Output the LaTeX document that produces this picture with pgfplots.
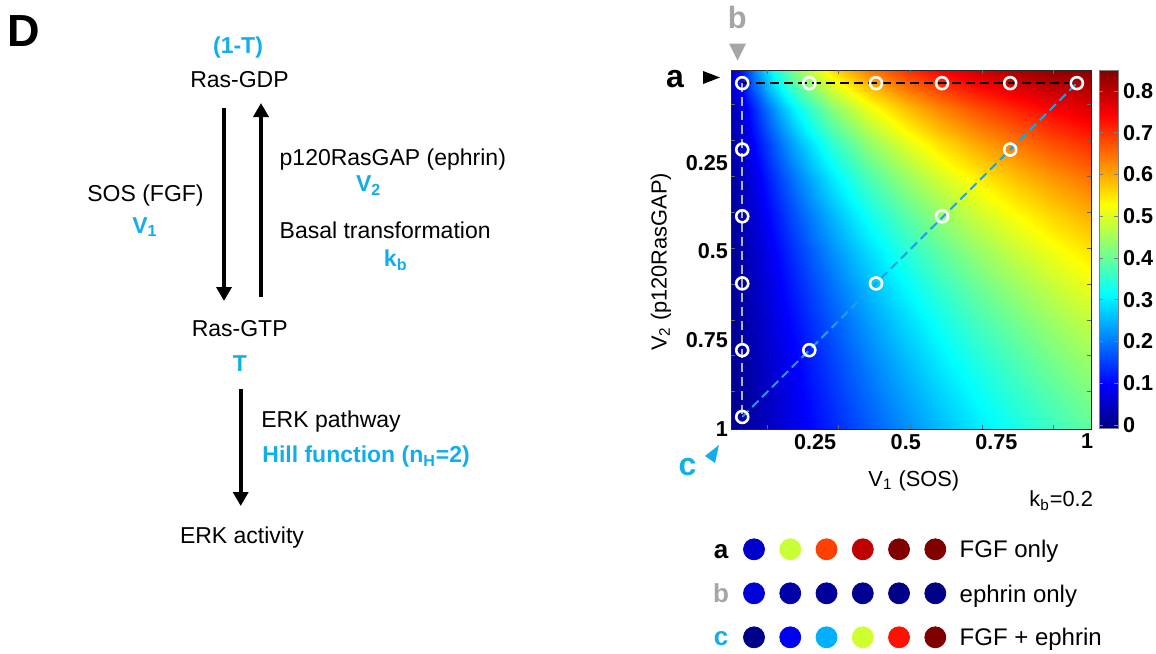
\documentclass[border=0pt]{standalone}
\usepackage{fontspec}
\setmainfont{Liberation Sans}
\usepackage{pgfplots}
\pgfplotsset{compat=1.18}
\usetikzlibrary{arrows.meta}
\definecolor{cy}{HTML}{12AEEB}
\definecolor{gb}{HTML}{A6A6A6}
\definecolor{dcy}{HTML}{1FA3E0}
\definecolor{lgr}{HTML}{B4B4B4}
\newcommand{\fsz}[1]{\fontsize{#1}{#1}\selectfont}
\pgfplotstableread{
x y z
0 -0.02 0
0.05 -0.02 0.128
0.1 -0.02 0.257
0.15 -0.02 0.361
0.2 -0.02 0.443
0.3 -0.02 0.565
0.4 -0.02 0.649
0.5 -0.02 0.710
0.6 -0.02 0.757
0.7 -0.02 0.794
0.8 -0.02 0.823
0.9 -0.02 0.848
1.02 -0.02 0.872
0 0.1 0
0.05 0.1 0.075
0.1 0.1 0.164
0.15 0.1 0.244
0.2 0.1 0.314
0.3 0.1 0.427
0.4 0.1 0.513
0.5 0.1 0.579
0.6 0.1 0.633
0.7 0.1 0.676
0.8 0.1 0.712
0.9 0.1 0.743
1.02 0.1 0.774
0 0.2 0
0.05 0.2 0.054
0.1 0.2 0.123
0.15 0.2 0.188
0.2 0.2 0.248
0.3 0.2 0.350
0.4 0.2 0.432
0.5 0.2 0.499
0.6 0.2 0.554
0.7 0.2 0.600
0.8 0.2 0.638
0.9 0.2 0.672
1.02 0.2 0.706
0 0.3 0
0.05 0.3 0.042
0.1 0.3 0.097
0.15 0.3 0.152
0.2 0.3 0.203
0.3 0.3 0.295
0.4 0.3 0.372
0.5 0.3 0.436
0.6 0.3 0.490
0.7 0.3 0.536
0.8 0.3 0.576
0.9 0.3 0.611
1.02 0.3 0.647
0 0.4 0
0.05 0.4 0.033
0.1 0.4 0.079
0.15 0.4 0.126
0.2 0.4 0.171
0.3 0.4 0.253
0.4 0.4 0.324
0.5 0.4 0.385
0.6 0.4 0.438
0.7 0.4 0.484
0.8 0.4 0.524
0.9 0.4 0.560
1.02 0.4 0.597
0 0.5 0
0.05 0.5 0.028
0.1 0.5 0.066
0.15 0.5 0.106
0.2 0.5 0.146
0.3 0.5 0.220
0.4 0.5 0.286
0.5 0.5 0.344
0.6 0.5 0.395
0.7 0.5 0.440
0.8 0.5 0.480
0.9 0.5 0.515
1.02 0.5 0.553
0 0.6 0
0.05 0.6 0.023
0.1 0.6 0.056
0.15 0.6 0.092
0.2 0.6 0.127
0.3 0.6 0.194
0.4 0.6 0.255
0.5 0.6 0.310
0.6 0.6 0.359
0.7 0.6 0.402
0.8 0.6 0.441
0.9 0.6 0.476
1.02 0.6 0.514
0 0.7 0
0.05 0.7 0.020
0.1 0.7 0.049
0.15 0.7 0.080
0.2 0.7 0.112
0.3 0.7 0.173
0.4 0.7 0.230
0.5 0.7 0.281
0.6 0.7 0.328
0.7 0.7 0.370
0.8 0.7 0.408
0.9 0.7 0.442
1.02 0.7 0.479
0 0.8 0
0.05 0.8 0.018
0.1 0.8 0.043
0.15 0.8 0.071
0.2 0.8 0.099
0.3 0.8 0.155
0.4 0.8 0.208
0.5 0.8 0.257
0.6 0.8 0.301
0.7 0.8 0.341
0.8 0.8 0.378
0.9 0.8 0.412
1.02 0.8 0.449
0 0.9 0
0.05 0.9 0.015
0.1 0.9 0.038
0.15 0.9 0.063
0.2 0.9 0.089
0.3 0.9 0.141
0.4 0.9 0.190
0.5 0.9 0.236
0.6 0.9 0.278
0.7 0.9 0.317
0.8 0.9 0.352
0.9 0.9 0.385
1.02 0.9 0.421
0 1.0 0
0.05 1.0 0.014
0.1 1.0 0.034
0.15 1.0 0.057
0.2 1.0 0.081
0.3 1.0 0.128
0.4 1.0 0.174
0.5 1.0 0.217
0.6 1.0 0.257
0.7 1.0 0.295
0.8 1.0 0.329
0.9 1.0 0.361
1.02 1.0 0.397
}\heat
\pgfplotstableread{
x y c
0 0 0.0545
1 0 0.481
2 0 0.689
3 0 0.796
4 0 0.85
5 0 0.85
0 1 0.0646
1 1 0.024
2 1 0.0124
3 1 0.004
4 1 -0.003
5 1 -0.005
0 2 -0.001
1 2 0.085
2 2 0.246
3 2 0.488
4 2 0.729
5 2 0.85
}\legdots
\begin{document}
\begin{tikzpicture}[x=0.5pt,y=-0.5pt]
% ---------------- left diagram ----------------
\node[font=\bfseries\fsz{22.5},inner sep=0pt] at (24,31) {D};
\node[font=\bfseries\fsz{11.5},text=cy,anchor=base,inner sep=0pt] at (238,53.5) {(1-T)};
\node[font=\fsz{11.5},anchor=base,inner sep=0pt] at (239.5,87.3) {Ras-GDP};
\draw[line width=2pt,-{Triangle[length=7pt,width=7.5pt]}] (224,108) -- (224,301);
\draw[line width=2pt,-{Triangle[length=7pt,width=7.5pt]}] (261,297) -- (261,103);
\node[font=\fsz{11.5},anchor=base,inner sep=0pt] at (145.5,201) {SOS (FGF)};
\node[font=\bfseries\fsz{11.5},text=cy,anchor=base,inner sep=0pt] at (145,233.3) {V\textsubscript{1}};
\node[font=\fsz{11.5},anchor=base west,inner sep=0pt] at (279.3,165) {p120RasGAP (ephrin)};
\node[font=\bfseries\fsz{11.5},text=cy,anchor=base,inner sep=0pt] at (368.7,191.7) {V\textsubscript{2}};
\node[font=\fsz{11.5},anchor=base west,inner sep=0pt] at (279.3,238.7) {Basal transformation};
\node[font=\bfseries\fsz{11.5},text=cy,anchor=base,inner sep=0pt] at (395.8,266.7) {k\textsubscript{b}};
\node[font=\fsz{11.5},anchor=base,inner sep=0pt] at (239.7,336) {Ras-GTP};
\node[font=\bfseries\fsz{11.5},text=cy,anchor=base,inner sep=0pt] at (240,371) {T};
\draw[line width=2pt,-{Triangle[length=7pt,width=7.5pt]}] (240.7,389) -- (240.7,506);
\node[font=\fsz{11.5},anchor=base west,inner sep=0pt] at (261,427.7) {ERK pathway};
\node[font=\bfseries\fsz{11.5},text=cy,anchor=base west,inner sep=0pt] at (262,462.7) {Hill function (n\textsubscript{H}=2)};
\node[font=\fsz{11.5},anchor=base,inner sep=0pt] at (242,543.7) {ERK activity};
% ---------------- heat map ----------------
\begin{axis}[
  at={(365.5pt,-214.5pt)}, anchor=south west,
  width=180pt, height=179.5pt, scale only axis,
  xmin=0.018, xmax=1.011, ymin=-0.011, ymax=1.0, y dir=reverse,
  colormap/jet, point meta min=-0.01, point meta max=0.85,
  axis on top,
  axis line style={line width=0.5pt, black!85},
  xtick={0.25,0.5,0.75,1}, xticklabels={0.25,0.5,0.75,1},
  ytick={0.25,0.5,0.75,1}, yticklabels={0.25,0.5,0.75,1},
  major tick length=0pt,
  tick label style={font=\bfseries\fsz{10.8}},
  xticklabel style={yshift=1pt},
  yticklabel style={xshift=2pt},
  extra x ticks={0.117,0.315,0.512,0.711,0.908},
  extra x tick labels={},
  extra y ticks={0.087,0.188,0.289,0.390,0.491,0.592,0.693,0.793,0.894},
  extra y tick labels={},
  extra tick style={major tick length=2pt, tick style={black!60, line width=0.4pt}},
  colorbar,
  colorbar shift/.style={xshift=4pt},
  colorbar style={
    width=9.5pt,
    at={(parent axis.north east)}, anchor=north west,
    ytick={0,0.1,0.2,0.3,0.4,0.5,0.6,0.7,0.8},
    yticklabels={0,0.1,0.2,0.3,0.4,0.5,0.6,0.7,0.8},
    yticklabel style={font=\bfseries\fsz{10.8}, xshift=-1pt},
    axis line style={gray, line width=0.5pt},
    major tick length=2pt,
    tick style={gray},
  },
]
\addplot[surf, shader=interp, mesh/cols=13, point meta=explicit] table[x=x, y=y, meta=z] {\heat};
\addplot[black, line width=1pt, dash pattern=on 4.5pt off 2.5pt] coordinates {(0.049,0.026) (0.972,0.026)};
\addplot[lgr, line width=1pt, dash pattern=on 4.5pt off 2.5pt] coordinates {(0.049,0.026) (0.049,0.966)};
\addplot[dcy, line width=1pt, dash pattern=on 4.5pt off 2.5pt] coordinates {(0.049,0.966) (0.972,0.026)};
\addplot[only marks, mark=o, mark size=3pt, draw=white, line width=1.3pt] coordinates {
(0.049,0.026) (0.234,0.026) (0.418,0.026) (0.600,0.026) (0.788,0.026) (0.972,0.026)
(0.049,0.213) (0.049,0.401) (0.049,0.590) (0.049,0.778) (0.049,0.966)
(0.234,0.778) (0.418,0.590) (0.600,0.401) (0.788,0.213)};
\end{axis}
% axis labels and annotations
\node[font=\fsz{10.9},anchor=base,inner sep=0pt] at (913.8,486.7) {V\textsubscript{1} (SOS)};
\node[font=\fsz{10.9},anchor=base,rotate=90,inner sep=0pt] at (666.7,262) {V\textsubscript{2} (p120RasGAP)};
\node[font=\fsz{10.9},anchor=base east,inner sep=0pt] at (1093.3,506.7) {k\textsubscript{b}=0.2};
\node[font=\bfseries\fsz{16},anchor=base,inner sep=0pt] at (675,87.3) {a};
\fill (703,71) -- (720,77.5) -- (703,84) -- cycle;
\node[font=\bfseries\fsz{15.4},text=gb,anchor=base,inner sep=0pt] at (737.3,28.3) {b};
\fill[gb] (729,43.5) -- (746,43.5) -- (737.5,60.5) -- cycle;
\node[font=\bfseries\fsz{16},text=cy,anchor=base,inner sep=0pt] at (687.5,475) {c};
\fill[cy] (719,445) -- (705,456) -- (715,463) -- cycle;
% ---------------- legend rows ----------------
\begin{axis}[
  at={(377pt,-318.65pt)}, anchor=south west,
  width=90.65pt, height=44pt, scale only axis,
  xmin=0, xmax=5, ymin=0, ymax=2, y dir=reverse,
  hide axis, clip=false,
  colormap/jet, point meta min=-0.01, point meta max=0.85,
]
\addplot[scatter, only marks, mark=*, mark size=5.25pt,
  scatter/use mapped color={draw=mapped color, fill=mapped color},
  point meta=explicit] table[x=x, y=y, meta=c] {\legdots};
\end{axis}
\node[font=\bfseries\fsz{13},anchor=base,inner sep=0pt] at (721,558.3) {a};
\node[font=\bfseries\fsz{13},text=gb,anchor=base,inner sep=0pt] at (721,602.7) {b};
\node[font=\bfseries\fsz{13},text=cy,anchor=base,inner sep=0pt] at (721,645.7) {c};
\node[font=\fsz{12},anchor=base west,inner sep=0pt] at (959.3,557.3) {FGF only};
\node[font=\fsz{12},anchor=base west,inner sep=0pt] at (959.3,602) {ephrin only};
\node[font=\fsz{12},anchor=base west,inner sep=0pt] at (959.3,645) {FGF + ephrin};
\pgfresetboundingbox
\path[use as bounding box] (0,0) rectangle (1156,653);
\end{tikzpicture}
\end{document}
